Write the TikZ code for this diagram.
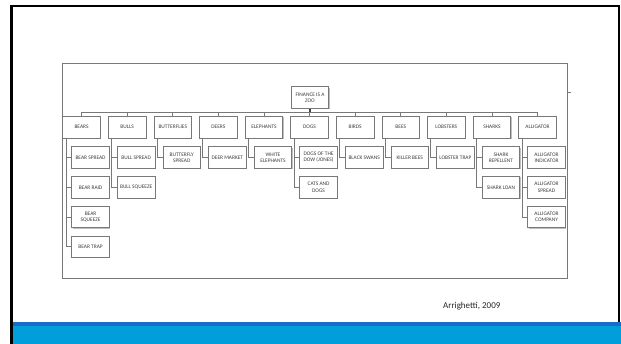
\documentclass[tikz,border=0pt]{standalone}
\usepackage{fontspec}
\setmainfont{Carlito}
\usetikzlibrary{shadows}
\definecolor{bandlight}{RGB}{0,158,219}
\definecolor{banddark}{RGB}{24,108,200}
\definecolor{framegray}{RGB}{120,120,120}
\definecolor{boxline}{RGB}{120,120,120}
\definecolor{boxtext}{RGB}{60,60,60}
\tikzset{
  zoobox/.style={draw=boxline, line width=0.8pt, fill=white,
    minimum width=37.7pt, minimum height=21.5pt, inner sep=0.2pt,
    align=center, text=boxtext, font=\fontsize{5.4}{6.2}\selectfont,
    general shadow={shadow xshift=0.8pt, shadow yshift=-0.8pt, fill=gray!50}},
  link/.style={draw=boxline, line width=0.8pt},
}
\begin{document}
\begin{tikzpicture}[x=1pt,y=-1pt]
\useasboundingbox (0,0) rectangle (621,344);
% slide background and border
\fill[white] (0,0) rectangle (621,344);
\fill[black] (10,5) rectangle (620,7.2);
\fill[black] (10,5) rectangle (12.8,344);
\fill[black] (618.4,5) rectangle (620,322);
% colour band along the foot of the slide
\fill[banddark] (12.8,322) rectangle (621,326);
\fill[bandlight] (12.8,326) rectangle (621,344);
% picture frame
\draw[framegray, line width=0.9pt] (62.3,63.3) rectangle (567.3,278);
\draw[framegray, line width=0.8pt] (567.3,92.3) -- (570.5,92.3);

% root
\node[zoobox] (root) at (310,97.5) {FINANCE IS A\\ZOO};
\coordinate (bus) at (310,112.5);

% first level
\foreach \i/\nm/\txt in {0/bears/BEARS, 1/bulls/BULLS, 2/butterflies/BUTTERFLIES,
  3/deers/DEERS, 4/elephants/ELEPHANTS, 5/dogs/DOGS, 6/birds/BIRDS, 7/bees/BEES,
  8/lobsters/LOBSTERS, 9/sharks/SHARKS, 10/alligator/ALLIGATOR}{
  \node[zoobox] (\nm) at ({81.55+45.6*\i},127.25) {\txt};
}

% second level
\foreach \i/\j/\nm/\txt in {
  0/0/bearspread/BEAR SPREAD, 0/1/bearraid/BEAR RAID,
  0/2/bearsqueeze/{BEAR\\SQUEEZE}, 0/3/beartrap/BEAR TRAP,
  1/0/bullspread/BULL SPREAD, 1/1/bullsqueeze/BULL SQUEEZE,
  2/0/butterflyspread/{BUTTERFLY\\SPREAD},
  3/0/deermarket/DEER MARKET,
  4/0/whiteelephants/{WHITE\\ELEPHANTS},
  5/0/dogsofthedow/{DOGS OF THE\\DOW (JONES)}, 5/1/catsanddogs/{CATS AND\\DOGS},
  6/0/blackswans/BLACK SWANS,
  7/0/killerbees/KILLER BEES,
  8/0/lobstertrap/LOBSTER TRAP,
  9/0/sharkrepellent/{SHARK\\REPELLENT}, 9/1/sharkloan/SHARK LOAN,
  10/0/alligatorindicator/{ALLIGATOR\\INDICATOR},
  10/1/alligatorspread/{ALLIGATOR\\SPREAD},
  10/2/alligatorcompany/{ALLIGATOR\\COMPANY}}{
  \node[zoobox] (\nm) at ({90.55+45.6*\i},{157.5+29.8*\j}) {\txt};
}

% connectors: root to bus, bus to first level
\draw[link, line width=1.4pt, draw=gray!50!black] (root.south) -- (root.south |- bus);
\draw[link] (bears.north |- bus) -- (alligator.north |- bus);
\foreach \nm in {bears,bulls,butterflies,deers,elephants,dogs,birds,bees,lobsters,sharks,alligator}{
  \draw[link] (\nm.north |- bus) -- (\nm.north);
}

% connectors: first level to second level
\foreach \p/\c in {bears/bearspread, bears/bearraid, bears/bearsqueeze, bears/beartrap,
  bulls/bullspread, bulls/bullsqueeze, butterflies/butterflyspread,
  deers/deermarket, elephants/whiteelephants,
  dogs/dogsofthedow, dogs/catsanddogs, birds/blackswans, bees/killerbees,
  lobsters/lobstertrap, sharks/sharkrepellent, sharks/sharkloan,
  alligator/alligatorindicator, alligator/alligatorspread, alligator/alligatorcompany}{
  \draw[link] ([xshift=3.7pt]\p.south west) |- (\c.west);
}

% source note
\node[anchor=west, font=\fontsize{9}{10}\selectfont, text=black!85, inner sep=0pt] (source) at (443,306.5) {Arrighetti, 2009};
\end{tikzpicture}
\end{document}
